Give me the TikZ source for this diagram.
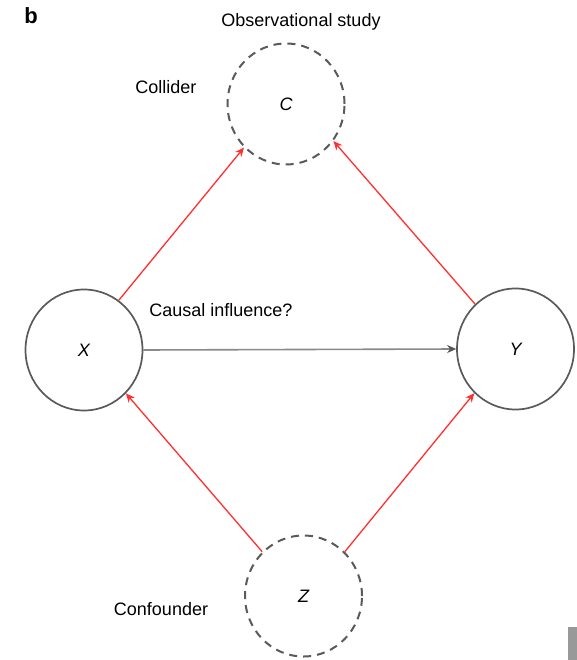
\documentclass[tikz,border=0pt]{standalone}
\usepackage{fontspec}
\setmainfont{Liberation Sans}
\usetikzlibrary{shapes.geometric,arrows.meta}
\definecolor{ringgray}{HTML}{5A5A5A}
\definecolor{arrowgray}{HTML}{8A8A8A}
\definecolor{headgray}{HTML}{555555}
\definecolor{linkred}{HTML}{FF3030}
\begin{document}
\begin{tikzpicture}[x=1pt,y=-1pt,
  var/.style={ellipse,draw=ringgray,line width=1.7pt,minimum width=117pt,minimum height=121pt,inner sep=0pt,font=\fontsize{18}{20}\selectfont\itshape},
  latent/.style={var,dashed,dash pattern=on 8pt off 6pt,line width=2pt},
  lbl/.style={font=\fontsize{18}{20}\selectfont,inner sep=0pt},
  redarrow/.style={draw=linkred,line width=1.3pt,-{Stealth[length=9pt,width=8pt]}},
  grayarrow/.style={draw=arrowgray,line width=1.6pt,-{Stealth[length=9pt,width=8pt,color=headgray]}}]
\useasboundingbox (0,0) rectangle (577,660);
\fill[white] (0,0) rectangle (577,660);
\node[font=\fontsize{22}{24}\selectfont\bfseries,inner sep=0pt] (b) at (31,16) {b};
\node[latent] (C) at (286,104) {C};
\node[var] (X) at (84,350) {X};
\node[var] (Y) at (515.5,349) {Y};
\node[latent] (Z) at (303.5,596) {Z};
\node[lbl] (obs) at (301,22) {Observational study};
\node[lbl] (col) at (166,87) {Collider};
\node[lbl] (cau) at (221,310) {Causal influence?};
\node[lbl] (con) at (161,609) {Confounder};
\draw[redarrow] (X.55) -- (C.226);
\draw[redarrow] (Y.132) -- (C.322);
\draw[redarrow] (Z.133) -- (X.314);
\draw[redarrow] (Z.47) -- (Y.227);
\draw[grayarrow] (X.east) -- (Y.west);
\fill[gray!80] (568,627) rectangle (577,660);
\end{tikzpicture}
\end{document}
